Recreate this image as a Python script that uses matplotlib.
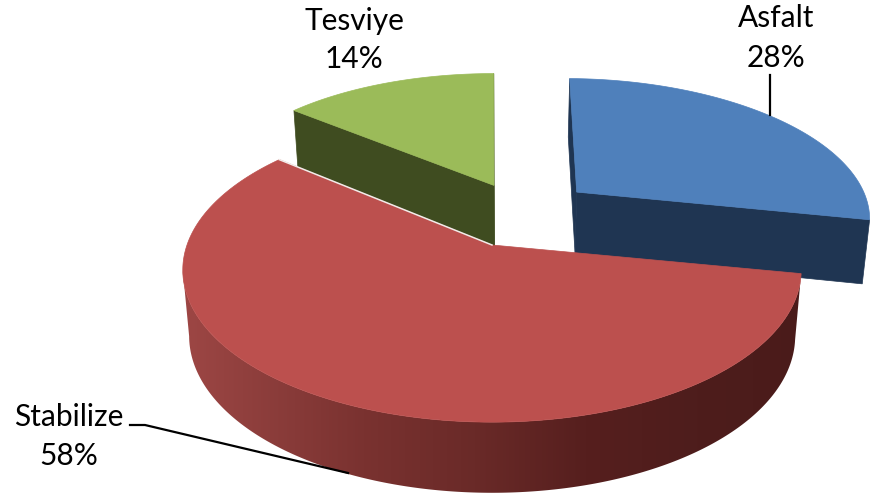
import numpy as np
import matplotlib
matplotlib.use('Agg')
import matplotlib.pyplot as plt
from matplotlib.colors import LinearSegmentedColormap
from matplotlib.patches import Polygon

labels = ['Asfalt', 'Stabilize', 'Tesviye']
values = [28, 58, 14]

top_colors = ['#4F80BB', '#BC504E', '#9BBB59']
side_colors = ['#1F3552', None, '#3F4C20']

# perspective of the pie plane, fitted on the picture
CX, CY = 492, 245
RX, RY = 305, 148
P = 0.1645
DEPTH, DEPTH_P = 65, 0.08
SHRINK, VX = 0.98, 500
# explode offset of every slice in the plane, and a small turn in degrees
offsets = [(0.295, 0.38), (0.0, 0.0), (0.007, 0.431)]
turns = [1.0, 0.0, 0.0]

red_side = LinearSegmentedColormap.from_list(
    'red_side', ['#A64B49', '#8F3F3D', '#7A3230', '#6A2A28', '#561F1E', '#4E1D1C', '#4A1B1A'])


def project(px, py, low=False):
    w = 1 + P * py
    x = CX + RX * px / w
    y = CY - RY * py / w
    if low:
        x = VX + (x - VX) * SHRINK
        y = y + DEPTH / (1 + DEPTH_P * py)
    return x, y


def outline(t, off):
    return off[0] + np.sin(t), off[1] + np.cos(t)


fig = plt.figure(figsize=(8.77, 4.95), dpi=100)
ax = fig.add_axes([0, 0, 1, 1])

# slice angles, clockwise from the top
edges = np.cumsum([0] + values) / sum(values) * 2 * np.pi


def draw_slice(i, zorder):
    off = offsets[i]
    turn = np.radians(turns[i])
    t = np.linspace(edges[i] + turn, edges[i + 1] + turn, 400)
    px, py = outline(t, off)
    xt, yt = project(px, py)
    xb, yb = project(px, py, low=True)
    ax0, ay0 = project(off[0], off[1])
    bx0, by0 = project(off[0], off[1], low=True)

    if i == 1:
        # outer wall with the shading from left to right, only the part facing us
        k = np.argmin(xt) + 1
        grad = np.linspace(0, 1, 256).reshape(1, -1)
        im = ax.imshow(grad, cmap=red_side, extent=[140, 810, 495, 0], aspect='auto', zorder=zorder)
        wall = Polygon(np.c_[np.r_[xt[:k], xb[:k][::-1]], np.r_[yt[:k], yb[:k][::-1]]], closed=True,
                       transform=ax.transData, fc='none', ec='none')
        ax.add_patch(wall)
        im.set_clip_path(wall)
    else:
        # cut faces and outer wall in one flat colour
        ax.fill([ax0, xt[0], xb[0], bx0], [ay0, yt[0], yb[0], by0],
                color=side_colors[i], lw=0.5, zorder=zorder)
        ax.fill([ax0, xt[-1], xb[-1], bx0], [ay0, yt[-1], yb[-1], by0],
                color=side_colors[i], lw=0.5, zorder=zorder)

    ax.fill(np.r_[ax0, xt], np.r_[ay0, yt], color=top_colors[i], lw=0.5, zorder=zorder + 0.5)
    if i == 1:
        # thin light gap towards the green slice
        ax.plot([ax0, xt[-1]], [ay0, yt[-1]], color='#F2ECEA', lw=1.1, zorder=zorder + 0.6)


draw_slice(2, 1)
draw_slice(0, 2)
draw_slice(1, 3)

# leader lines
ax.plot([770, 770], [75, 115], color='black', lw=1.6, zorder=5)
ax.plot([130, 145, 348], [425, 425, 473], color='black', lw=1.6, zorder=5)

ax.set_xlim(0, 877)
ax.set_ylim(495, 0)
ax.axis('off')

font = 'Lato'
fs = 21.5
ax.text(354, 21, labels[2], ha='center', va='center', fontsize=fs, family=font)
ax.text(354, 59, '%d%%' % values[2], ha='center', va='center', fontsize=fs, family=font)
ax.text(776, 18, labels[0], ha='center', va='center', fontsize=fs, family=font)
ax.text(776, 58, '%d%%' % values[0], ha='center', va='center', fontsize=fs, family=font)
ax.text(69, 417, labels[1], ha='center', va='center', fontsize=fs, family=font)
ax.text(69, 456, '%d%%' % values[1], ha='center', va='center', fontsize=fs, family=font)

fig.savefig('out.png', dpi=100)
